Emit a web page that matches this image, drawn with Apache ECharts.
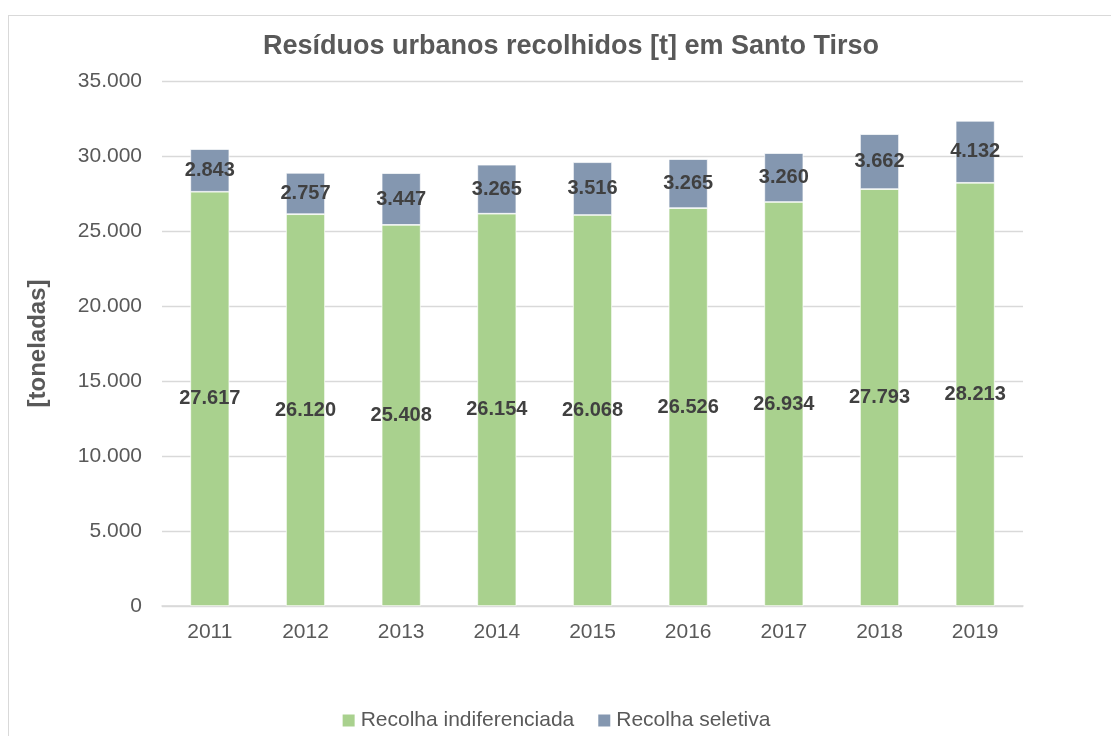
<!DOCTYPE html>
<html>
<head>
<meta charset="utf-8">
<script src="https://cdn.jsdelivr.net/npm/echarts@6/dist/echarts.min.js"></script>
<style>
html, body { margin: 0; padding: 0; background: #ffffff; }
#chart { width: 1111px; height: 736px; }
.frame { position: absolute; left: 8px; top: 15px; width: 1110px; height: 730px; border: 1px solid #d9d9d9; box-sizing: border-box; pointer-events: none; }
</style>
</head>
<body>
<div class="frame"></div>
<div id="chart"></div>
<script>
// dados
var anos = ['2011', '2012', '2013', '2014', '2015', '2016', '2017', '2018', '2019'];
var indiferenciada = [27617, 26120, 25408, 26154, 26068, 26526, 26934, 27793, 28213];
var seletiva = [2843, 2757, 3447, 3265, 3516, 3265, 3260, 3662, 4132];

function fmt(v) {
    return String(v).replace(/\B(?=(\d{3})+(?!\d))/g, '.');
}

var myChart = echarts.init(document.getElementById('chart'));
var rotulo = {
    show: true,
    position: 'inside',
    color: '#404040',
    fontWeight: 'bold',
    fontSize: 20,
    fontFamily: 'Liberation Sans, Arial, sans-serif',
    formatter: function (p) { return fmt(p.value); }
};
var option = {
    animation: false,
    textStyle: { fontFamily: 'Liberation Sans, Arial, sans-serif' },
    title: {
        text: 'Resíduos urbanos recolhidos [t] em Santo Tirso',
        left: 566,
        textAlign: 'center',
        top: 28,
        textStyle: { color: '#595959', fontSize: 27, fontWeight: 'bold' }
    },
    legend: {
        bottom: 0,
        left: 'center',
        itemWidth: 14,
        itemHeight: 14,
        itemGap: 22,
        icon: 'rect',
        textStyle: { color: '#595959', fontSize: 21 },
        data: ['Recolha indiferenciada', 'Recolha seletiva']
    },
    grid: { left: 162, right: 88, top: 81, bottom: 130 },
    xAxis: {
        type: 'category',
        data: anos,
        axisLine: { lineStyle: { color: '#d9d9d9', width: 1.5 } },
        axisTick: { show: false },
        axisLabel: { color: '#595959', fontSize: 21, margin: 16 }
    },
    yAxis: {
        type: 'value',
        min: 0,
        max: 35000,
        interval: 5000,
        name: '[toneladas]',
        nameLocation: 'middle',
        nameGap: 112,
        nameRotate: 90,
        nameTextStyle: { color: '#595959', fontSize: 24, fontWeight: 'bold' },
        axisLine: { show: false },
        axisTick: { show: false },
        axisLabel: { color: '#595959', fontSize: 21, margin: 20, formatter: function (v) { return fmt(v); } },
        splitLine: { lineStyle: { color: '#d9d9d9', width: 1.3 } }
    },
    series: [
        {
            name: 'Recolha indiferenciada',
            type: 'bar',
            stack: 'total',
            barWidth: 39,
            data: indiferenciada,
            itemStyle: { color: '#a9d18e', borderColor: '#ffffff', borderWidth: 0.7 },
            label: rotulo
        },
        {
            name: 'Recolha seletiva',
            type: 'bar',
            stack: 'total',
            barWidth: 39,
            data: seletiva,
            itemStyle: { color: '#8497b0', borderColor: '#ffffff', borderWidth: 0.7 },
            label: rotulo
        }
    ]
};
myChart.setOption(option);
</script>
</body>
</html>
